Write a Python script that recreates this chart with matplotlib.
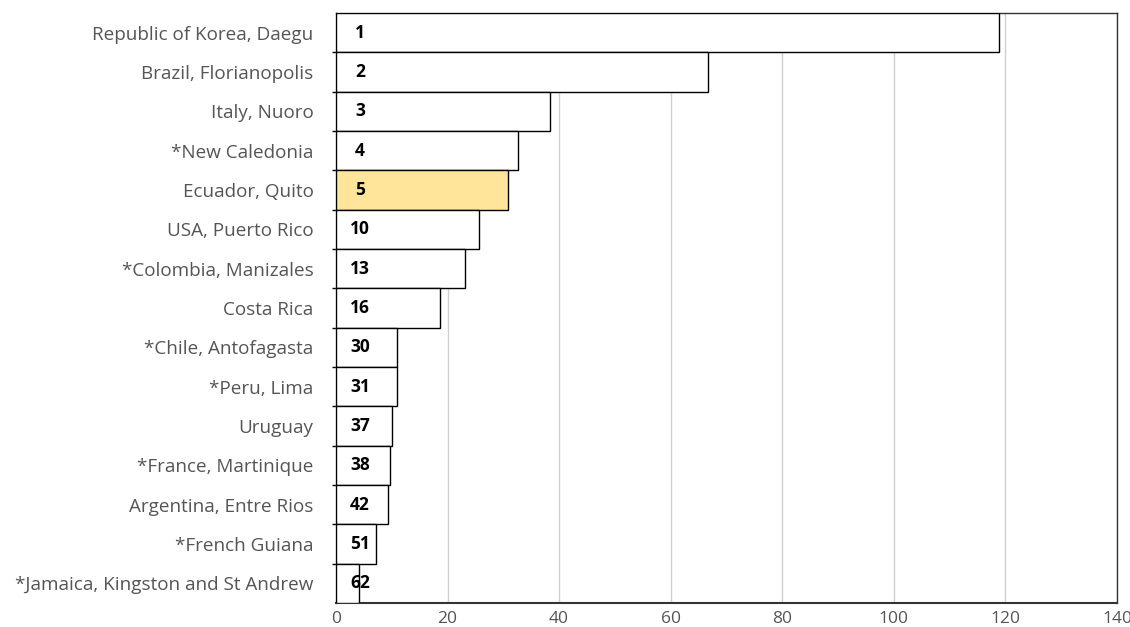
import numpy as np
import matplotlib.pyplot as plt

# Data
places = ['Republic of Korea, Daegu', 'Brazil, Florianopolis', 'Italy, Nuoro',
          '*New Caledonia', 'Ecuador, Quito', 'USA, Puerto Rico',
          '*Colombia, Manizales', 'Costa Rica', '*Chile, Antofagasta',
          '*Peru, Lima', 'Uruguay', '*France, Martinique',
          'Argentina, Entre Rios', '*French Guiana',
          '*Jamaica, Kingston and St Andrew']
values = [118.8, 66.7, 38.3, 32.6, 30.8, 25.6, 23.2, 18.7, 11.0, 11.0,
          10.1, 9.7, 9.4, 7.2, 4.1]
ranks = ['1', '2', '3', '4', '5', '10', '13', '16', '30', '31', '37', '38',
         '42', '51', '62']
highlight = 'Ecuador, Quito'

plt.rcParams['font.family'] = ['Open Sans', 'DejaVu Sans']

fig = plt.figure(figsize=(11.3, 6.27), dpi=100)
ax = fig.add_axes([0.2973, 0.0383, 0.6912, 0.941])

y = np.arange(len(places))
colors = ['#fee599' if p == highlight else 'white' for p in places]
ax.barh(y, values, height=1.0, color=colors, edgecolor='black', linewidth=1.0, zorder=3)

for yi, r in zip(y, ranks):
    ax.text(4.3, yi, r, ha='center', va='center', fontsize=12.5,
            fontweight='bold', color='black', zorder=4)

ax.set_xlim(0, 140)
ax.set_ylim(len(places) - 0.5, -0.5)
ax.set_xticks(np.arange(0, 141, 20))
ax.set_yticks(y)
ax.set_yticklabels(places)
ax.set_yticks(np.arange(0.5, len(places) - 0.5, 1), minor=True)

ax.grid(axis='x', color='#d0d0d0', linewidth=1.0, zorder=0)
ax.tick_params(axis='x', length=0, labelsize=12.5, labelcolor='#555555', pad=6)
ax.tick_params(axis='y', which='major', length=0, labelsize=13.6, labelcolor='#555555', pad=16)
ax.tick_params(axis='y', which='minor', length=3, width=1, color='black', direction='out')

for s in ax.spines.values():
    s.set_color('#333333')
    s.set_linewidth(1.0)
ax.spines['bottom'].set_linewidth(1.5)

plt.savefig('out.png', dpi=100)
